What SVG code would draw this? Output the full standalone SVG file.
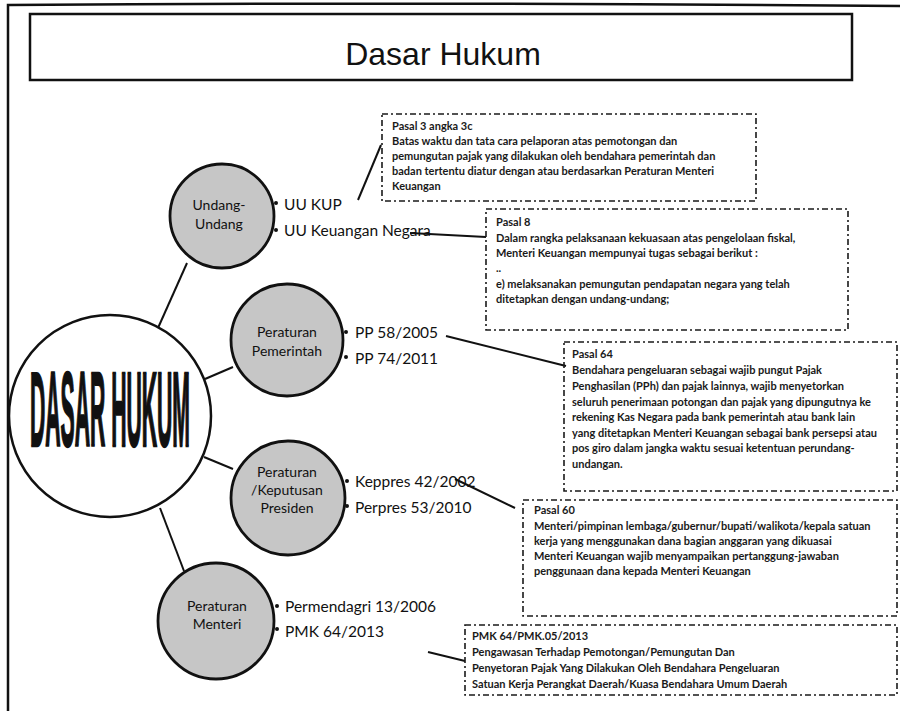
<svg xmlns="http://www.w3.org/2000/svg" width="900" height="711" viewBox="0 0 900 711">
<defs>
<style>
.frame{fill:none;stroke:#111;stroke-width:2.5}
.sub{fill:#c6c6c6;stroke:#111;stroke-width:2.8}
.subt{font-family:Lato,"Open Sans",sans-serif;font-size:14px;fill:#111;text-anchor:middle}
.lbl{font-family:Lato,"Open Sans",sans-serif;font-size:15.5px;fill:#111}
.box{fill:none;stroke:#1a1a1a;stroke-width:1.6;stroke-dasharray:6 3 2 3}
.bt{font-family:Lato,"Open Sans",sans-serif;font-size:11px;font-weight:bold;fill:#1a1a1a}
.con{stroke:#111;stroke-width:2;fill:none}
.dot{fill:#111}
</style>
</defs>
<rect width="900" height="711" fill="#fff"/>
<g id="frame">
<path class="frame" d="M8 711 L8 5 Q450 2 900 6"/>
</g>
<g id="title">
<rect x="30" y="14" width="822" height="66" fill="#fff" stroke="#111" stroke-width="2.5"/>
<text x="443" y="65" font-family="'Liberation Sans',Arial,sans-serif" font-size="32" text-anchor="middle" fill="#111">Dasar Hukum</text>
</g>
<g id="connectors">
<line class="con" x1="158" y1="328" x2="187" y2="263"/>
<line class="con" x1="205" y1="379" x2="233" y2="367"/>
<line class="con" x1="204" y1="457" x2="233" y2="469"/>
<line class="con" x1="160" y1="508" x2="184" y2="571"/>
<line class="con" x1="358" y1="200" x2="381" y2="145"/>
<line class="con" x1="410" y1="233" x2="486" y2="237"/>
<line class="con" x1="446" y1="336" x2="566" y2="366"/>
<line class="con" x1="455" y1="479" x2="515" y2="508"/>
<line class="con" x1="428" y1="652" x2="465" y2="661"/>
<circle class="dot" cx="276" cy="203" r="2"/>
<circle class="dot" cx="276" cy="230" r="2"/>
<circle class="dot" cx="346" cy="332" r="2"/>
<circle class="dot" cx="346" cy="357" r="2"/>
<circle class="dot" cx="347" cy="481" r="2"/>
<circle class="dot" cx="347" cy="506" r="2"/>
<circle class="dot" cx="277" cy="606" r="2"/>
<circle class="dot" cx="277" cy="629" r="2"/>
</g>
<g id="dasar-hukum">
<circle cx="110" cy="416" r="101" fill="#fff" stroke="#111" stroke-width="2.5"/>
<text x="30" y="446" font-family="'Liberation Sans',Arial,sans-serif" font-size="106" font-weight="bold" fill="#111" stroke="#111" stroke-width="2.5" textLength="160" lengthAdjust="spacingAndGlyphs">DASAR HUKUM</text>
</g>
<g id="undang-undang">
<circle class="sub" cx="222" cy="216" r="52"/>
<text class="subt" x="219" y="210">Undang-</text>
<text class="subt" x="219" y="229">Undang</text>
<text class="lbl" x="284" y="210">UU KUP</text>
<text class="lbl" x="284" y="236">UU Keuangan Negara</text>
</g>
<g id="peraturan-pemerintah">
<circle class="sub" cx="287" cy="340" r="56"/>
<text class="subt" x="287" y="337" font-size="13">Peraturan</text>
<text class="subt" x="287" y="356" font-size="13">Pemerintah</text>
<text class="lbl" x="355" y="338">PP 58/2005</text>
<text class="lbl" x="355" y="364">PP 74/2011</text>
</g>
<g id="peraturan-presiden">
<circle class="sub" cx="288" cy="498" r="57"/>
<text class="subt" x="287" y="477" font-size="13">Peraturan</text>
<text class="subt" x="287" y="495" font-size="13">/Keputusan</text>
<text class="subt" x="287" y="513" font-size="13">Presiden</text>
<text class="lbl" x="355" y="487">Keppres 42/2002</text>
<text class="lbl" x="355" y="513">Perpres 53/2010</text>
</g>
<g id="peraturan-menteri">
<circle class="sub" cx="216" cy="621" r="58"/>
<text class="subt" x="217" y="611" font-size="13">Peraturan</text>
<text class="subt" x="217" y="629" font-size="13">Menteri</text>
<text class="lbl" x="285" y="612">Permendagri 13/2006</text>
<text class="lbl" x="285" y="637">PMK 64/2013</text>
</g>
<g id="box-pasal3">
<rect class="box" x="382" y="114" width="374" height="87"/>
<text class="bt" x="392" y="130">Pasal 3 angka 3c</text>
<text class="bt" x="392" y="145">Batas waktu dan tata cara pelaporan atas pemotongan dan</text>
<text class="bt" x="392" y="160">pemungutan pajak yang dilakukan oleh bendahara pemerintah dan</text>
<text class="bt" x="392" y="175">badan tertentu diatur dengan atau berdasarkan Peraturan Menteri</text>
<text class="bt" x="392" y="190">Keuangan</text>
</g>
<g id="box-pasal8">
<rect class="box" x="486" y="209" width="362" height="121"/>
<text class="bt" x="496" y="226">Pasal  8</text>
<text class="bt" x="496" y="242">Dalam rangka pelaksanaan kekuasaan atas pengelolaan fiskal,</text>
<text class="bt" x="496" y="257">Menteri Keuangan mempunyai tugas sebagai berikut :</text>
<text class="bt" x="496" y="272">..</text>
<text class="bt" x="496" y="288">e) melaksanakan pemungutan pendapatan negara yang telah</text>
<text class="bt" x="496" y="303">ditetapkan dengan undang-undang;</text>
</g>
<g id="box-pasal64">
<rect class="box" x="564" y="342" width="333" height="149"/>
<text class="bt" x="572" y="358">Pasal  64</text>
<text class="bt" x="572" y="374">Bendahara pengeluaran sebagai wajib pungut Pajak</text>
<text class="bt" x="572" y="390">Penghasilan (PPh) dan pajak lainnya, wajib menyetorkan</text>
<text class="bt" x="572" y="405.5">seluruh penerimaan potongan dan pajak yang dipungutnya ke</text>
<text class="bt" x="572" y="421">rekening Kas Negara pada bank pemerintah atau bank lain</text>
<text class="bt" x="572" y="436.5">yang ditetapkan Menteri Keuangan sebagai bank persepsi atau</text>
<text class="bt" x="572" y="452">pos giro dalam jangka waktu sesuai ketentuan perundang-</text>
<text class="bt" x="572" y="467.5">undangan.</text>
</g>
<g id="box-pasal60">
<rect class="box" x="523" y="500" width="374" height="116"/>
<text class="bt" x="534" y="514">Pasal 60</text>
<text class="bt" x="534" y="530">Menteri/pimpinan lembaga/gubernur/bupati/walikota/kepala satuan</text>
<text class="bt" x="534" y="545">kerja yang menggunakan dana bagian anggaran yang dikuasai</text>
<text class="bt" x="534" y="560">Menteri Keuangan wajib menyampaikan pertanggung-jawaban</text>
<text class="bt" x="534" y="575">penggunaan dana kepada Menteri Keuangan</text>
</g>
<g id="box-pmk">
<rect class="box" x="465" y="625" width="432" height="70"/>
<text class="bt" x="472" y="640">PMK 64/PMK.05/2013</text>
<text class="bt" x="472" y="656">Pengawasan Terhadap Pemotongan/Pemungutan Dan</text>
<text class="bt" x="472" y="672">Penyetoran Pajak Yang Dilakukan Oleh Bendahara Pengeluaran</text>
<text class="bt" x="472" y="688">Satuan Kerja Perangkat Daerah/Kuasa Bendahara Umum Daerah</text>
</g>
</svg>
